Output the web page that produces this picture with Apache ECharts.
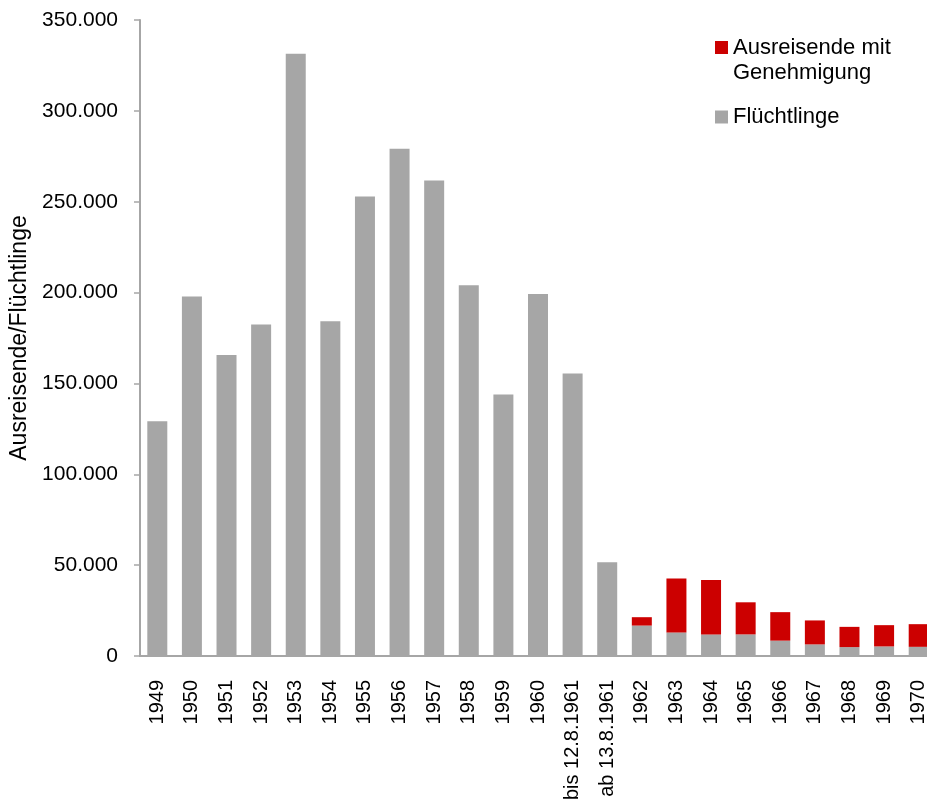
<!DOCTYPE html>
<html><head><meta charset="utf-8">
<script src="https://cdn.jsdelivr.net/npm/echarts@6/dist/echarts.min.js"></script>
<style>html,body{margin:0;padding:0;background:#fff}#c{width:927px;height:812px}</style>
</head><body><div id="c"></div>
<script>
const categories = ['1949','1950','1951','1952','1953','1954','1955','1956','1957','1958','1959','1960','bis 12.8.1961','ab 13.8.1961','1962','1963','1964','1965','1966','1967','1968','1969','1970'];
const fluechtlinge = [129245,197788,165648,182393,331390,184198,252870,279189,261622,204092,143917,199188,155402,51624,16741,12967,11864,11886,8456,6385,4902,5273,5047];
const ausreisende = [0,0,0,0,0,0,0,0,0,0,0,0,0,0,4615,29665,30012,17666,15675,13188,11134,11702,12472];
const yTicks = {min:0, max:350000, interval:50000};

const FONT = 'Liberation Sans';
const fmt = v => String(v).replace(/\B(?=(\d{3})+(?!\d))/g, '.');

const chart = echarts.init(document.getElementById('c'), null, {renderer:'canvas'});
chart.setOption({
  animation:false,
  textStyle:{fontFamily:FONT},
  grid:{left:140, width:796, top:20, bottom:156, containLabel:false, outerBoundsMode:'none'},
  legend:[
    {data:['Ausreisende mit Genehmigung'],
     left:715, top:10, padding:0, orient:'vertical', icon:'rect', itemWidth:13, itemHeight:13, itemGap:5,
     selectedMode:false,
     formatter:()=> '\u00a0\nAusreisende mit\nGenehmigung',
     textStyle:{fontFamily:FONT, fontSize:22, lineHeight:25, color:'#000'}},
    {data:['Flüchtlinge'],
     left:715, top:104.5, padding:0, orient:'vertical', icon:'rect', itemWidth:13, itemHeight:13, itemGap:5,
     selectedMode:false,
     textStyle:{fontFamily:FONT, fontSize:22, lineHeight:25, color:'#000'}}
  ],
  xAxis:{
    type:'category', data:categories,
    axisLine:{lineStyle:{color:'#a6a6a6', width:2}},
    axisTick:{show:false},
    axisLabel:{rotate:90, interval:0, margin:24, fontFamily:FONT, fontSize:20, color:'#000'}
  },
  yAxis:{
    type:'value', min:yTicks.min, max:yTicks.max, interval:yTicks.interval,
    name:'Ausreisende/Flüchtlinge', nameLocation:'middle', nameGap:107, nameRotate:90,
    nameTextStyle:{fontFamily:FONT, fontSize:23, color:'#000'},
    axisLine:{show:true, lineStyle:{color:'#a6a6a6', width:2}},
    axisTick:{show:true, length:6, lineStyle:{color:'#a6a6a6', width:1.5}},
    splitLine:{show:false},
    axisLabel:{margin:22, fontFamily:FONT, fontSize:21, color:'#000', formatter:v=>fmt(v)}
  },
  series:[
    {name:'Flüchtlinge', type:'bar', stack:'a', data:fluechtlinge, barWidth:20, itemStyle:{color:'#a6a6a6'}},
    {name:'Ausreisende mit Genehmigung', type:'bar', stack:'a', data:ausreisende, barWidth:20, itemStyle:{color:'#cc0000'}}
  ]
});
</script></body></html>
